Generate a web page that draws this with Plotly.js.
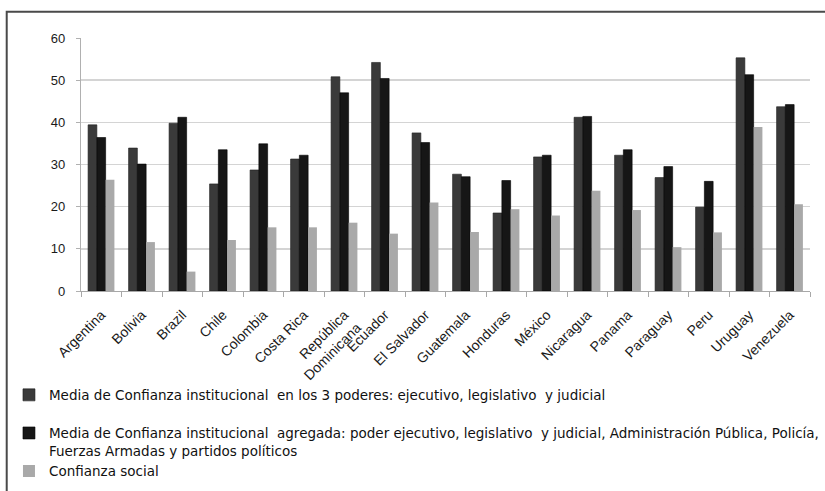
<!DOCTYPE html>
<html>
<head>
<meta charset="utf-8">
<script src="https://cdn.plot.ly/plotly-3.0.1.min.js"></script>
<style>html,body{margin:0;padding:0;background:#fff;}#chart{width:825px;height:491px;}</style>
</head>
<body>
<div id="chart"></div>
<script>
const countries = ["Argentina","Bolivia","Brazil","Chile","Colombia","Costa Rica","República<br>Dominicana","Ecuador","El Salvador","Guatemala","Honduras","México","Nicaragua","Panama","Paraguay","Peru","Uruguay","Venezuela"];
const poderes3 = [39.4,33.9,39.8,25.4,28.7,31.3,50.8,54.2,37.5,27.7,18.5,31.8,41.2,32.2,26.9,19.9,55.3,43.7];
const agregada = [36.4,30.1,41.2,33.5,34.9,32.2,47.0,50.4,35.2,27.1,26.2,32.2,41.4,33.5,29.5,26.0,51.3,44.2];
const social = [26.4,11.6,4.6,12.1,15.1,15.1,16.2,13.6,21.0,14.0,19.4,17.9,23.8,19.2,10.4,13.9,38.9,20.6];
const names = [
  "Media de Confianza institucional  en los 3 poderes: ejecutivo, legislativo  y judicial<br> ",
  "Media de Confianza institucional  agregada: poder ejecutivo, legislativo  y judicial, Administración Pública, Policía,<br>Fuerzas Armadas y partidos políticos",
  "Confianza social"
];
const yTicks = [0,10,20,30,40,50,60];

const font = "Liberation Sans, Arial, sans-serif";
const legendFont = "DejaVu Sans, Liberation Sans, sans-serif";
const traces = [
  {type:'bar', x:countries, y:poderes3, name:names[0], marker:{color:'#3a3a3a', line:{color:'#1e1e1e', width:0.6}}},
  {type:'bar', x:countries, y:agregada, name:names[1], marker:{color:'#161616', line:{color:'#000', width:0.6}}},
  {type:'bar', x:countries, y:social, name:names[2], marker:{color:'#a9a9a9', line:{width:0}}}
];
const layout = {
  width:825, height:491,
  margin:{l:81, r:15, t:38, b:200},
  paper_bgcolor:'#fff', plot_bgcolor:'#fff',
  barmode:'group', bargap:0.35, bargroupgap:0,
  font:{family:font, color:'#222'},
  showlegend:true,
  legend:{xref:'paper', x:-0.0988, xanchor:'left', yref:'container', y:0.2269, yanchor:'top', orientation:'v', valign:'top',
          font:{family:legendFont, size:13.5, color:'#111'}, bgcolor:'rgba(0,0,0,0)', traceorder:'normal', itemclick:false},
  xaxis:{type:'category', tickangle:-45, tickfont:{size:14, color:'#1a1a1a'}, showline:true, linecolor:'#a8a8a8', linewidth:1.2,
         ticks:'outside', ticklen:5, tickcolor:'#a8a8a8', tickson:'boundaries', ticklabelstandoff:9, showgrid:false, fixedrange:true, automargin:false},
  yaxis:{range:[0,60], tickvals:yTicks, ticktext:yTicks.map(String), tickfont:{size:13, color:'#1a1a1a'}, showline:true, linecolor:'#b0b0b0', linewidth:1.2,
         ticks:'outside', ticklen:4, tickcolor:'#b0b0b0', ticklabelstandoff:8, showgrid:true, gridcolor:'#d4d4d4', gridwidth:1.5, zeroline:false, fixedrange:true, automargin:false},
  shapes:[{type:'rect', xref:'paper', yref:'paper', x0:-0.1019, x1:1.06, y0:-0.85, y1:1.104, line:{color:'#4a4a4a', width:2}, fillcolor:'rgba(0,0,0,0)', layer:'above'}]
};
Plotly.newPlot('chart', traces, layout, {displayModeBar:false, staticPlot:true});
</script>
</body>
</html>
